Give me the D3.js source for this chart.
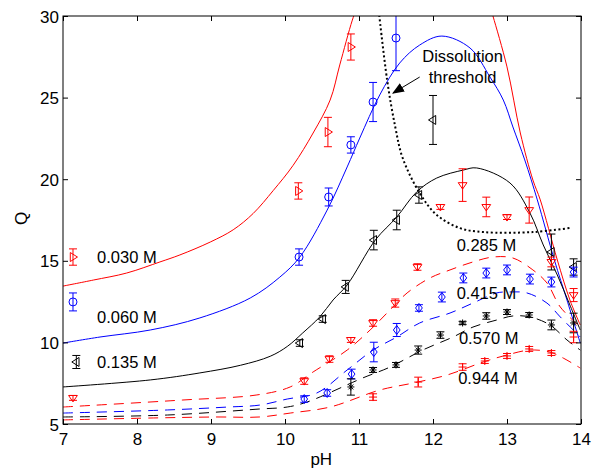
<!DOCTYPE html>
<html>
<head>
<meta charset="utf-8">
<script src="https://cdn.jsdelivr.net/npm/d3@7"></script>
<style>
  body { margin: 0; background: #fff; }
  text { font-family: Arial, "Liberation Sans", sans-serif; }
</style>
</head>
<body>
<div id="chart"></div>
<script>
// measured points: [pH, Q, error]
var pts030 = [[7.135, 15.23, 0.5], [10.18, 19.28, 0.5], [10.58, 22.89, 0.9], [10.89, 28.1, 0.8]];
var pts060 = [[7.135, 12.48, 0.55], [10.19, 15.23, 0.5], [10.59, 18.91, 0.55], [10.89, 22.1, 0.5],
              [11.19, 24.73, 1.2], [11.5, 28.65, 2.0]];
var pts135 = [[7.18, 8.8, 0.4], [10.2, 9.96, 0.2], [10.51, 11.43, 0.2], [10.82, 13.4, 0.4],
              [11.2, 16.27, 0.6], [11.51, 17.5, 0.6], [11.81, 19.03, 0.5], [12.0, 23.63, 1.5],
              [13.6, 15.54, 1.1], [13.9, 14.62, 0.5]];
var pts285 = [[7.135, 6.6, 0.15], [10.26, 7.63, 0.2], [10.6, 8.98, 0.2], [10.89, 10.15, 0.15],
              [11.19, 11.19, 0.2], [11.49, 12.41, 0.25], [11.79, 14.62, 0.2], [12.1, 18.3, 0.15],
              [12.4, 19.64, 1.0], [12.72, 18.3, 0.6], [13.0, 17.68, 0.15], [13.3, 18.11, 0.8],
              [13.6, 14.93, 0.3], [13.9, 12.9, 0.4]];
var pts415 = [[10.26, 6.53, 0.2], [10.57, 6.9, 0.2], [10.9, 8.06, 0.3], [11.2, 9.41, 0.6],
              [11.51, 10.76, 0.4], [11.81, 12.11, 0.2], [12.12, 12.78, 0.3], [12.41, 13.95, 0.3],
              [12.72, 14.25, 0.3], [13.0, 14.44, 0.3], [13.31, 13.88, 0.3], [13.6, 13.7, 0.3],
              [13.9, 14.31, 0.3]];
var pts570 = [[10.89, 7.27, 0.5], [11.19, 8.31, 0.15], [11.5, 8.62, 0.15], [11.8, 9.53, 0.25],
              [12.1, 10.45, 0.2], [12.4, 11.19, 0.1], [12.72, 11.62, 0.2], [13.0, 11.86, 0.15],
              [13.3, 11.68, 0.15], [13.6, 11.07, 0.3], [13.9, 11.19, 0.6]];
var pts944 = [[11.19, 6.65, 0.2], [11.8, 7.57, 0.3], [12.4, 8.49, 0.2], [12.7, 8.86, 0.15],
              [13.0, 9.17, 0.15], [13.3, 9.6, 0.15], [13.6, 9.35, 0.15], [13.9, 10.33, 0.35]];

// model curves: [pH, Q]  (null = break, curve leaves the plot)
var fit030 = [[7.0, 13.45], [7.41, 13.82], [7.86, 14.25], [8.31, 14.93], [8.58, 15.36], [8.99, 16.15],
              [9.3, 16.9], [9.57, 17.9], [9.84, 19.3], [10.11, 20.85], [10.38, 22.83], [10.61, 24.85],
              [10.74, 27.0], [10.91, 29.75], [10.98, 30.6], null,
              [12.77, 30.6], [12.81, 30.0], [13.0, 26.88], [13.18, 22.83], [13.35, 19.95], [13.45, 18.73],
              [13.68, 15.05], [13.85, 12.6], [13.99, 11.07]];
var fit060 = [[7.0, 9.96], [7.5, 10.33], [8.18, 10.76], [8.85, 11.5], [9.53, 12.72], [9.93, 14.0],
              [10.2, 15.23], [10.57, 18.11], [10.84, 20.75], [11.01, 22.52], [11.28, 25.16], [11.55, 27.12],
              [11.82, 28.22], [12.12, 28.77], [12.5, 28.04], [12.77, 26.26], [12.95, 24.85], [13.08, 23.2],
              [13.24, 21.18], [13.41, 18.73], [13.64, 15.05], [13.81, 12.6], [13.99, 9.96]];
var fit135 = [[7.0, 7.27], [8.18, 7.7], [8.85, 8.13], [9.4, 8.6], [9.8, 9.15], [10.03, 9.75],
              [10.24, 10.58], [10.47, 11.56], [10.65, 12.6], [10.84, 13.52], [11.22, 16.27], [11.51, 17.68],
              [11.78, 19.22], [12.05, 20.07], [12.41, 20.56], [12.59, 20.69], [13.04, 19.77], [13.31, 17.93],
              [13.49, 15.97], [13.68, 14.13], [13.85, 12.29], [13.99, 10.76]];
var fit285 = [[7.0, 6.04], [8.62, 6.47], [9.62, 6.78], [10.07, 7.27], [10.38, 8.19], [10.84, 9.53],
              [11.15, 10.76], [11.42, 11.99], [11.65, 13.03], [11.96, 13.95], [12.23, 14.44], [12.54, 14.93],
              [12.81, 15.23], [13.08, 15.17], [13.35, 14.44], [13.54, 13.64], [13.72, 12.17], [13.99, 10.94]];
var fit415 = [[7.0, 5.67], [8.41, 5.86], [9.23, 6.04], [9.66, 6.16], [10.03, 6.53], [10.43, 6.9],
              [10.84, 8.31], [11.19, 9.53], [11.51, 10.33], [11.82, 11.19], [12.23, 11.8], [12.54, 12.41],
              [12.86, 13.03], [13.04, 13.09], [13.27, 13.03], [13.54, 12.41], [13.72, 11.56], [13.99, 10.33]];
var fit570 = [[7.0, 5.43], [8.41, 5.55], [9.66, 5.92], [10.03, 6.04], [10.3, 6.35], [11.05, 7.82],
              [11.42, 8.49], [11.86, 9.53], [12.27, 10.33], [12.54, 10.94], [12.86, 11.37], [13.08, 11.62],
              [13.31, 11.56], [13.58, 11.07], [13.81, 10.15], [13.99, 9.53]];
var fit944 = [[7.0, 5.25], [8.22, 5.37], [9.08, 5.43], [9.66, 5.43], [10.07, 5.67], [10.61, 6.04],
              [11.28, 7.08], [11.73, 7.51], [12.19, 8.0], [12.68, 8.8], [13.0, 9.23], [13.31, 9.53],
              [13.58, 9.41], [13.76, 9.04], [13.99, 8.43]];
var threshold = [[11.26, 30.6], [11.38, 26.08], [11.49, 23.2], [11.59, 21.3], [11.82, 19.15],
                 [12.05, 17.81], [12.36, 17.01], [12.68, 16.76], [13.35, 16.76], [13.85, 17.01]];

var xTicks = [7, 8, 9, 10, 11, 12, 13, 14];
var yTicks = [5, 10, 15, 20, 25, 30];

var W = 597, H = 469;
var m = {left: 63, top: 16, right: 16, bottom: 45};
var iw = W - m.left - m.right, ih = H - m.top - m.bottom;

var svg = d3.select("#chart").append("svg").attr("width", W).attr("height", H);
var g = svg.append("g").attr("transform", "translate(" + m.left + "," + m.top + ")");

var x = d3.scaleLinear().domain([7, 14]).range([0, iw]);
var y = d3.scaleLinear().domain([5, 30]).range([ih, 0]);

svg.append("defs").append("clipPath").attr("id", "clip")
  .append("rect").attr("width", iw).attr("height", ih);
svg.select("defs").append("marker").attr("id", "arrow")
  .attr("viewBox", "0 0 10 10").attr("refX", 9).attr("refY", 5)
  .attr("markerWidth", 12).attr("markerHeight", 12).attr("markerUnits", "userSpaceOnUse")
  .attr("orient", "auto")
  .append("path").attr("d", "M0,1L10,5L0,9Z").attr("fill", "#000");

var plot = g.append("g").attr("clip-path", "url(#clip)");

var line = d3.line().defined(function(d) { return d != null; })
  .x(function(d) { return x(d[0]); }).y(function(d) { return y(d[1]); })
  .curve(d3.curveCatmullRom);

function curve(data, color, dash, w) {
  plot.append("path").datum(data).attr("d", line)
    .attr("fill", "none").attr("stroke", color).attr("stroke-width", w || 1)
    .attr("stroke-dasharray", dash || null);
}

curve(fit030, "#ff0000");
curve(fit060, "#0000ff");
curve(fit135, "#000000");
curve(fit285, "#ff0000", "10,7");
curve(fit415, "#0000ff", "10,7");
curve(fit570, "#000000", "10,7");
curve(fit944, "#ff0000", "10,7");
curve(threshold, "#000000", "2,2.5", 2);

// marker shapes
var shapes = {
  right: function(s) { return "M" + (-s * 0.6) + "," + (-s) + "L" + s + ",0L" + (-s * 0.6) + "," + s + "Z"; },
  left: function(s) { return "M" + (s * 0.6) + "," + (-s) + "L" + (-s) + ",0L" + (s * 0.6) + "," + s + "Z"; },
  down: function(s) { return "M" + (-s * 1.1) + "," + (-s * 0.6) + "L" + (s * 1.1) + "," + (-s * 0.6) + "L0," + s + "Z"; },
  circle: function(s) { return "M" + s + ",0A" + s + "," + s + " 0 1,1 " + (-s) + ",0A" + s + "," + s + " 0 1,1 " + s + ",0Z"; },
  diamond: function(s) { return "M0," + (-s) + "L" + (s * 0.75) + ",0L0," + s + "L" + (-s * 0.75) + ",0Z"; },
  plus: function(s) { return "M" + (-s) + ",0H" + s + "M0," + (-s) + "V" + s; },
  star: function(s) {
    var a = s * 0.7;
    return "M" + (-s) + ",0H" + s + "M0," + (-s) + "V" + s +
      "M" + (-a) + "," + (-a) + "L" + a + "," + a + "M" + (-a) + "," + a + "L" + a + "," + (-a);
  }
};

function points(data, color, shape, size) {
  var grp = plot.append("g").attr("stroke", color).attr("fill", "none").attr("stroke-width", 1);
  var cap = 4;
  data.forEach(function(d) {
    var px = x(d[0]), py = y(d[1]), y0 = y(d[1] - d[2]), y1 = y(d[1] + d[2]);
    grp.append("path")
      .attr("d", "M" + px + "," + y0 + "V" + y1 +
        "M" + (px - cap) + "," + y0 + "H" + (px + cap) +
        "M" + (px - cap) + "," + y1 + "H" + (px + cap));
    grp.append("path").attr("transform", "translate(" + px + "," + py + ")")
      .attr("d", shapes[shape](size));
  });
}

points(pts030, "#ff0000", "right", 4.5);
points(pts060, "#0000ff", "circle", 4);
points(pts135, "#000000", "left", 4.5);
points(pts285, "#ff0000", "down", 4);
points(pts415, "#0000ff", "diamond", 4.5);
points(pts570, "#000000", "star", 3.5);
points(pts944, "#ff0000", "plus", 4);

// axes box
g.append("rect").attr("width", iw).attr("height", ih)
  .attr("fill", "none").attr("stroke", "#000").attr("stroke-width", 1);

var xb = g.append("g").attr("transform", "translate(0," + ih + ")")
  .call(d3.axisBottom(x).tickValues(xTicks).tickSize(-5).tickPadding(9).tickFormat(d3.format("d")));
var xt = g.append("g")
  .call(d3.axisTop(x).tickValues(xTicks).tickSize(-5).tickFormat(""));
var yl = g.append("g")
  .call(d3.axisLeft(y).tickValues(yTicks).tickSize(-5).tickPadding(4).tickFormat(d3.format("d")));
var yr = g.append("g").attr("transform", "translate(" + iw + ",0)")
  .call(d3.axisRight(y).tickValues(yTicks).tickSize(-5).tickFormat(""));

[xb, xt, yl, yr].forEach(function(a) {
  a.select(".domain").remove();
  a.selectAll("line").attr("stroke", "#000");
  a.selectAll("text").attr("fill", "#000").attr("font-size", 17)
    .attr("font-family", "Arial, 'Liberation Sans', sans-serif");
});
yl.selectAll("text").attr("dy", "0.36em");

// axis labels
svg.append("text").attr("x", m.left + x(10.49)).attr("y", 465)
  .attr("text-anchor", "middle").attr("font-size", 17).text("pH");
svg.append("text").attr("transform", "translate(27," + (m.top + y(17.6)) + ") rotate(-90)")
  .attr("text-anchor", "middle").attr("font-size", 17).text("Q");

// concentration labels
var labels = [
  {t: "0.030 M", px: 7.46, q: 15.23},
  {t: "0.060 M", px: 7.46, q: 11.55},
  {t: "0.135 M", px: 7.46, q: 8.8},
  {t: "0.285 M", px: 12.32, q: 15.95},
  {t: "0.415 M", px: 12.32, q: 13.0},
  {t: "0.570 M", px: 12.35, q: 10.24},
  {t: "0.944 M", px: 12.34, q: 7.8}
];
g.selectAll(".lab").data(labels).enter().append("text")
  .attr("x", function(d) { return x(d.px); })
  .attr("y", function(d) { return y(d.q); })
  .attr("dy", "0.36em").attr("font-size", 16.5).attr("fill", "#000")
  .text(function(d) { return d.t; });

// dissolution threshold note
g.append("text").attr("x", x(12.4)).attr("y", y(27.2)).attr("text-anchor", "middle")
  .attr("font-size", 16.5).text("Dissolution");
g.append("text").attr("x", x(12.4)).attr("y", y(25.9)).attr("text-anchor", "middle")
  .attr("font-size", 16.5).text("threshold");
g.append("line")
  .attr("x1", x(11.82)).attr("y1", y(26.26)).attr("x2", x(11.46)).attr("y2", y(25.28))
  .attr("stroke", "#000").attr("stroke-width", 1).attr("marker-end", "url(#arrow)");
</script>
</body>
</html>
